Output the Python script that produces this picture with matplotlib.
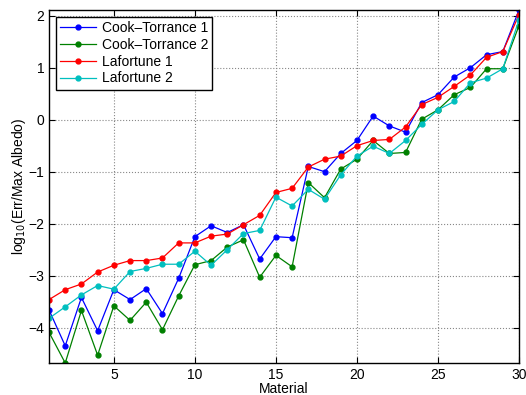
import numpy as np
import matplotlib.pyplot as plt

plt.rcParams['font.family'] = ['Liberation Sans', 'DejaVu Sans']

material = np.arange(1, 31)

cook_torrance_1 = [-3.66, -4.35, -3.42, -4.06, -3.27, -3.46, -3.25, -3.73, -3.05, -2.25,
                   -2.04, -2.17, -2.02, -2.68, -2.25, -2.27, -0.90, -1.00, -0.65, -0.40,
                   0.07, -0.12, -0.24, 0.33, 0.48, 0.82, 1.00, 1.25, 1.31, 2.11]
cook_torrance_2 = [-4.09, -4.68, -3.67, -4.53, -3.58, -3.86, -3.51, -4.04, -3.39, -2.79,
                   -2.71, -2.45, -2.31, -3.03, -2.61, -2.83, -1.21, -1.50, -0.95, -0.76,
                   -0.40, -0.65, -0.63, 0.01, 0.19, 0.48, 0.62, 0.98, 0.98, 1.81]
lafortune_1 = [-3.46, -3.27, -3.16, -2.93, -2.80, -2.71, -2.71, -2.66, -2.37, -2.37,
               -2.24, -2.20, -2.02, -1.84, -1.40, -1.32, -0.91, -0.76, -0.70, -0.50,
               -0.40, -0.38, -0.14, 0.29, 0.43, 0.64, 0.86, 1.20, 1.31, 2.02]
lafortune_2 = [-3.82, -3.60, -3.37, -3.19, -3.26, -2.92, -2.86, -2.78, -2.78, -2.53,
               -2.80, -2.50, -2.19, -2.13, -1.49, -1.66, -1.34, -1.53, -1.06, -0.70,
               -0.51, -0.65, -0.40, -0.09, 0.19, 0.35, 0.71, 0.80, 0.98, 1.92]

series = [(cook_torrance_1, (0, 0, 1), 'Cook\u2013Torrance 1'),
          (cook_torrance_2, (0, 0.5, 0), 'Cook\u2013Torrance 2'),
          (lafortune_1, (1, 0, 0), 'Lafortune 1'),
          (lafortune_2, (0, 0.75, 0.75), 'Lafortune 2')]

fig = plt.figure(figsize=(5.26, 3.95), dpi=100)
ax = fig.add_axes([0.0932, 0.081, 0.8935, 0.8937])

for values, color, label in series:
    ax.plot(material, values, '.-', color=color, lw=0.9, ms=7, label=label)

ax.set_xlim(1, 30)
ax.set_ylim(-4.68, 2.11)
ax.set_xticks([5, 10, 15, 20, 25, 30])
ax.set_yticks([-4, -3, -2, -1, 0, 1, 2])
ax.grid(True, linestyle=':', color='#888888', lw=0.8)
ax.tick_params(direction='in', top=True, right=True, length=4, labelsize=10, width=0.8)
for s in ax.spines.values():
    s.set_linewidth(1.0)

ax.set_xlabel('Material', fontsize=10, labelpad=0)
ax.set_ylabel('log$_{10}$(Err/Max Albedo)', fontsize=10, labelpad=0)

leg = ax.legend(loc='upper left', fontsize=10, fancybox=False, framealpha=1,
                borderaxespad=0.5, handlelength=2.6, labelspacing=0.2,
                borderpad=0.3, handletextpad=0.4)
leg.get_frame().set_edgecolor('black')
leg.get_frame().set_linewidth(1.0)

fig.savefig('out.png', dpi=100)
